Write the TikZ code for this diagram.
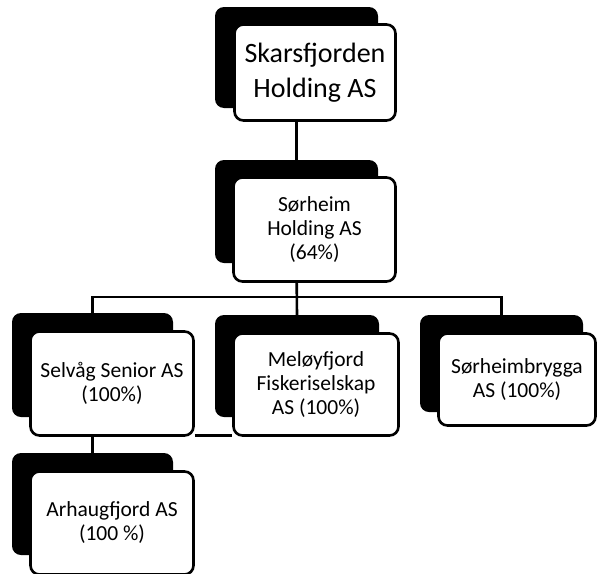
\documentclass[tikz,border=0pt]{standalone}
\usepackage{fontspec}
\setmainfont{Carlito}
\usetikzlibrary{backgrounds}

\begin{document}
\begin{tikzpicture}[x=1pt, y=-1pt]
  \useasboundingbox (0,0) rectangle (597,573);
  \begin{scope} [
    every node/.style={rounded corners=9pt, inner sep=0pt, align=center},
    back/.style={fill=black},
    front/.style={fill=white, draw=black, line width=2.6pt,
      font=\fontsize{21.5}{24}\selectfont},
    big/.style={font=\fontsize{28}{35}\selectfont},
    boxsize/.style 2 args={minimum width=#1pt, minimum height=#2pt}]
    %% *** Skarsfjorden ***
    \node [back, boxsize={163}{101}] (skarsB) at (296.5,57.5) {};
    \node [front, big, boxsize={161}{96}] (skars) at (315,72.5) {Skarsfjorden\\Holding AS};
    %% *** Sorheim Holding ***
    \node [back, boxsize={163}{103}] (holdB) at (296.5,211.5) {};
    \node [front, boxsize={162}{104}] (hold) at (314.5,229.5) {Sørheim\\Holding AS\\(64\%)};
    %% *** Datterselskap ***
    \node [back, boxsize={161}{104}] (selvB) at (92.5,365) {};
    \node [front, boxsize={163}{104}] (selv) at (112,383.5) {Selvåg Senior AS\\(100\%)};
    \node [back, boxsize={164}{102}] (melB) at (297,366) {};
    \node [front, boxsize={165}{102}] (mel) at (316,384.5) {Meløyfjord\\Fiskeriselskap\\AS (100\%)};
    \node [back, boxsize={163}{97}] (brygB) at (501.5,363.5) {};
    \node [front, boxsize={157}{92}] (bryg) at (517,379.5) {Sørheimbrygga\\AS (100\%)};
    %% *** Arhaugfjord ***
    \node [back, boxsize={161}{102}] (arhB) at (92.5,504) {};
    \node [front, boxsize={163}{103}] (arh) at (112,523) {Arhaugfjord AS\\(100~\%)};
  \end{scope}
  \begin{scope} [on background layer]
    \coordinate (bus) at (297,297);
    \draw [line width=2.6pt] (skarsB.south) -- (holdB.north);
    \draw [line width=2.6pt] (holdB.south) -- (melB.north);
    \draw [line width=2.6pt] (selvB.north) |- (bus) -| (brygB.north);
    \draw [line width=2.6pt] (selvB.south) -- (arhB.north);
    \draw [line width=2.6pt] ([yshift=1.3pt]selv.south east) -- ([yshift=1.3pt]mel.south west);
  \end{scope}
\end{tikzpicture}
\end{document}
